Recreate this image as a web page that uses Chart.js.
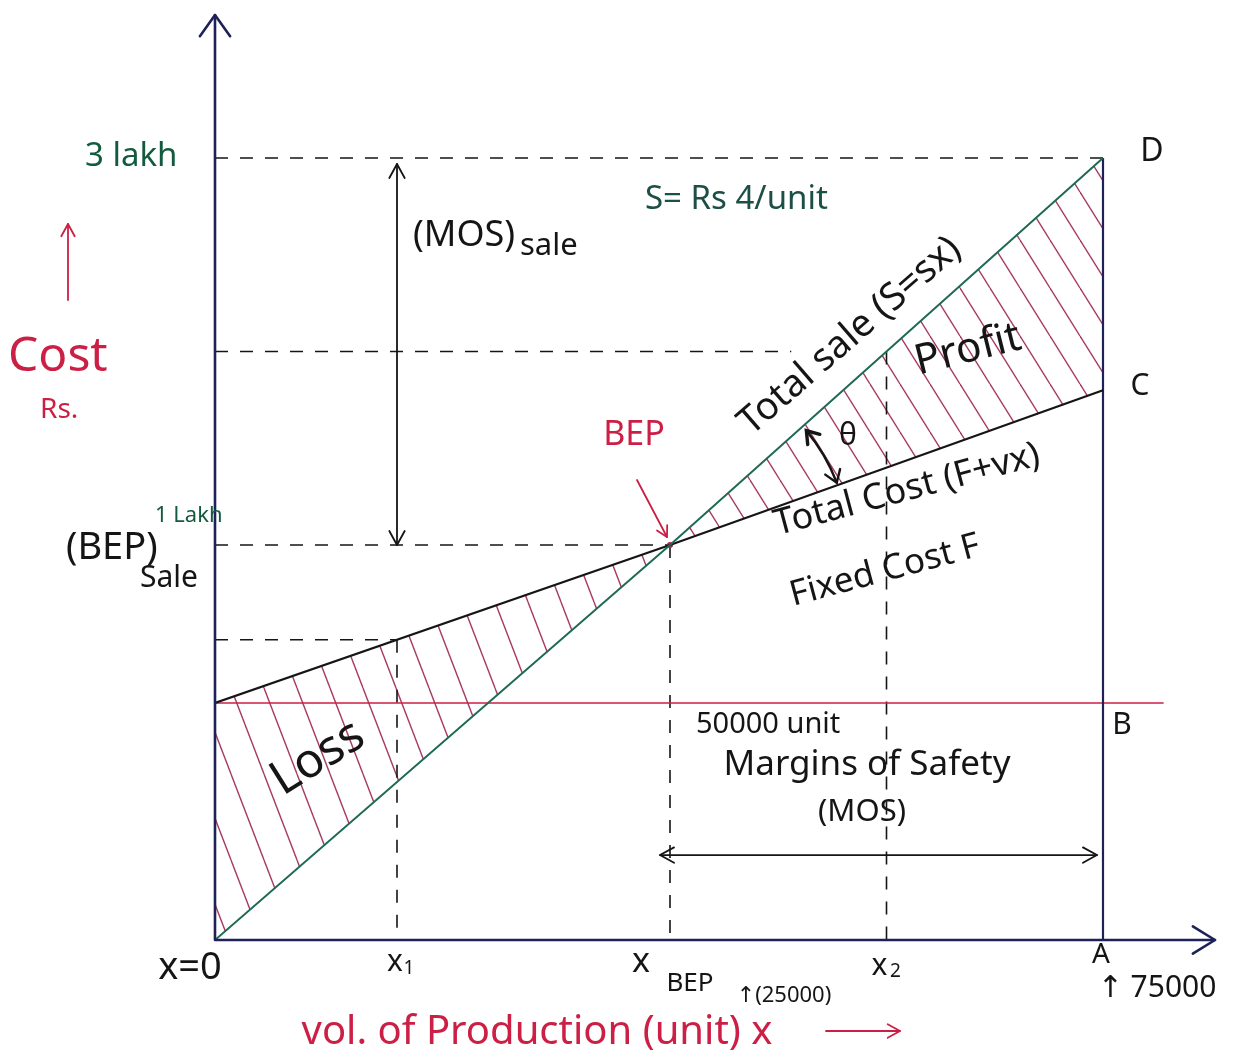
<!DOCTYPE html>
<html>
<head>
<meta charset="utf-8">
<title>Break-even chart</title>
<script src="https://cdn.jsdelivr.net/npm/chart.js@4.4.1/dist/chart.umd.min.js"></script>
<style>
  html, body { margin: 0; background: #fff; }
  #wrap { width: 1235px; height: 1061px; }
</style>
</head>
<body>
<div id="wrap"><canvas id="bep"></canvas></div>
<script>
// Break-even chart: total sale S = sx, total cost F + vx, fixed cost F
const units     = [0, 25000, 75000];        // x = 0, x_BEP, A
const totalSale = [0, 100000, 300000];      // Rs
const totalCost = [60000, 100000, 180000];  // Rs
const fixedCost = 60000;
const fixedCostEnd = 82000;
const x1 = 10000, x2 = 50000;
const costAtX1 = 76000;
const saleAtX2 = 200000;
const saleDashEnd = 39000;
const mosLevel = 21500;

// The sketch is not drawn to scale: each axis is piecewise linear between these knots
const KNOTS = {
  x: [[0, 0], [25000, 0.455], [75000, 0.888]],
  y: [[0, 0], [100000, 0.427], [300000, 0.8454]]
};
function seg(k, v, a, b) {
  let i = 1;
  while (i < k.length - 1 && v > k[i][a]) i++;
  const p = k[i - 1], q = k[i];
  return p[b] + (v - p[a]) * (q[b] - p[b]) / (q[a] - p[a]);
}
class SketchScale extends Chart.LinearScale {
  getPixelForValue(v) {
    const f = seg(KNOTS[this.axis], v, 0, 1);
    return this.isHorizontal() ? this.left + f * this.width : this.bottom - f * this.height;
  }
  getValueForPixel(p) {
    const f = this.isHorizontal() ? (p - this.left) / this.width : (this.bottom - p) / this.height;
    return seg(KNOTS[this.axis], f, 1, 0);
  }
}
SketchScale.id = 'sketch';
SketchScale.defaults = Chart.LinearScale.defaults;
Chart.register(SketchScale);

const pts = (xs, ys) => xs.map((x, i) => ({ x, y: ys[i] }));

function hatch(s, h, color) {
  const c = document.createElement('canvas');
  c.width = s; c.height = h;
  const g = c.getContext('2d');
  g.strokeStyle = color; g.lineWidth = 1.4;
  for (const dx of [-s, 0, s]) { g.beginPath(); g.moveTo(dx, 0); g.lineTo(dx + s, h); g.stroke(); }
  return g.createPattern(c, 'repeat');
}

const NAVY = '#1d2157', TEAL = '#1f6a56', RED = '#cc1f45', GREEN = '#135a3f', INK = '#151515';
const dash = (data) => ({ data, borderColor: INK, borderWidth: 1.6, borderDash: [13, 12], pointRadius: 0, fill: false });

function txt(ctx, s, x, y, size, color, rot = 0, align = 'left') {
  ctx.save();
  ctx.translate(x, y);
  ctx.rotate(rot * Math.PI / 180);
  ctx.font = `${size}px "Noto Sans", "DejaVu Sans", sans-serif`;
  ctx.fillStyle = color;
  ctx.textAlign = align;
  ctx.textBaseline = 'middle';
  ctx.fillText(s, 0, 0);
  ctx.restore();
}
function head(ctx, x, y, ang, len = 14, spread = 0.5) {
  ctx.beginPath();
  ctx.moveTo(x - len * Math.cos(ang - spread), y - len * Math.sin(ang - spread));
  ctx.lineTo(x, y);
  ctx.lineTo(x - len * Math.cos(ang + spread), y - len * Math.sin(ang + spread));
  ctx.stroke();
}
function arrow(ctx, xa, ya, xb, yb, color, both = false, w = 1.8, len = 14) {
  ctx.save();
  ctx.strokeStyle = color; ctx.lineWidth = w; ctx.lineCap = 'round'; ctx.lineJoin = 'round';
  ctx.beginPath(); ctx.moveTo(xa, ya); ctx.lineTo(xb, yb); ctx.stroke();
  const a = Math.atan2(yb - ya, xb - xa);
  head(ctx, xb, yb, a, len);
  if (both) head(ctx, xa, ya, a + Math.PI, len);
  ctx.restore();
}

const sketch = {
  id: 'sketch',
  afterDatasetsDraw(chart) {
    const { ctx } = chart;
    const X = v => chart.scales.x.getPixelForValue(v);
    const Y = v => chart.scales.y.getPixelForValue(v);
    const ox = X(0), oy = Y(0);
    const { right, top } = chart.chartArea;

    // axes with open arrow heads
    ctx.save();
    ctx.strokeStyle = NAVY; ctx.lineWidth = 2.6; ctx.lineCap = 'round'; ctx.lineJoin = 'round';
    ctx.beginPath(); ctx.moveTo(ox, oy); ctx.lineTo(ox, top); ctx.moveTo(ox, oy); ctx.lineTo(right, oy); ctx.stroke();
    head(ctx, ox, top, -Math.PI / 2, 26, 0.62);
    head(ctx, right, oy, 0, 26, 0.55);
    ctx.restore();

    // (MOS) sale arrow and MOS arrow
    arrow(ctx, X(x1), Y(300000) + 6, X(x1), Y(100000), INK, true, 1.8, 16);
    arrow(ctx, X(25000) - 10, Y(mosLevel), X(75000) - 6, Y(mosLevel), INK, true, 1.8, 16);

    // angle theta between sale and cost lines
    const bx = X(25000), by = Y(100000);
    const r = 178, a1 = -40 * Math.PI / 180, a2 = -20.5 * Math.PI / 180;
    ctx.save();
    ctx.strokeStyle = INK; ctx.lineWidth = 2.4; ctx.lineCap = 'round';
    ctx.beginPath(); ctx.arc(bx, by, r, a1, a2); ctx.stroke();
    ctx.lineWidth = 3.4;
    head(ctx, bx + r * Math.cos(a1), by + r * Math.sin(a1), a1 - Math.PI / 2, 14, 0.6);
    ctx.lineWidth = 2.4;
    head(ctx, bx + r * Math.cos(a2), by + r * Math.sin(a2), a2 + Math.PI / 2, 14, 0.6);
    ctx.restore();

    // red pointers
    arrow(ctx, 637, 480, bx - 3, by - 8, RED, false, 1.8, 12);
    arrow(ctx, 68, 300, 68, 224, RED, false, 1.8, 14);
    arrow(ctx, 826, 1031, 900, 1031, RED, false, 1.8, 14);

    // labels
    txt(ctx, '3 lakh', 85, 157, 33, GREEN);
    txt(ctx, '(MOS)', 413, 236, 36, INK);
    txt(ctx, 'sale', 520, 246, 31, INK);
    txt(ctx, 'S= Rs 4/unit', 645, 200, 33, '#1c4f46');
    txt(ctx, 'Total sale (S=sx)', 850, 336, 38, INK, -41, 'center');
    txt(ctx, 'Profit', 968, 350, 42, INK, -14, 'center');
    txt(ctx, 'θ', 848, 436, 30, INK, 0, 'center');
    txt(ctx, 'BEP', 634, 435, 34, RED, 0, 'center');
    txt(ctx, 'Total Cost (F+vx)', 907, 490, 36, INK, -15, 'center');
    txt(ctx, 'Fixed Cost F', 885, 571, 35, INK, -15, 'center');
    txt(ctx, '(BEP)', 66, 548, 38, INK);
    txt(ctx, '1 Lakh', 155, 516, 22, GREEN);
    txt(ctx, 'Sale', 140, 578, 30, INK);
    txt(ctx, 'Cost', 8, 357, 48, RED);
    txt(ctx, 'Rs.', 40, 410, 28, RED);
    txt(ctx, 'Loss', 318, 758, 48, INK, -32, 'center');
    txt(ctx, '50000 unit', 696, 725, 29, INK);
    txt(ctx, 'Margins of Safety', 867, 765, 35, INK, 0, 'center');
    txt(ctx, '(MOS)', 862, 812, 31, INK, 0, 'center');
    txt(ctx, 'C', 1140, 386, 30, INK, 0, 'center');
    txt(ctx, 'D', 1152, 152, 32, INK, 0, 'center');
    txt(ctx, 'B', 1122, 725, 30, INK, 0, 'center');

    // x-axis marks
    txt(ctx, 'x=0', 190, 968, 38, INK, 0, 'center');
    txt(ctx, 'x', X(x1) - 2, 962, 30, INK, 0, 'center');
    txt(ctx, '1', X(x1) + 12, 969, 19, INK, 0, 'center');
    txt(ctx, 'x', 641, 962, 34, INK, 0, 'center');
    txt(ctx, 'BEP', 690, 984, 26, INK, 0, 'center');
    txt(ctx, '↑(25000)', 784, 996, 22, INK, 0, 'center');
    txt(ctx, 'x', X(x2) - 7, 966, 30, INK, 0, 'center');
    txt(ctx, '2', X(x2) + 9, 972, 19, INK, 0, 'center');
    txt(ctx, 'A', 1101, 955, 28, INK, 0, 'center');
    txt(ctx, '↑ 75000', 1157, 988, 30, INK, 0, 'center');
    txt(ctx, 'vol. of Production (unit) x', 537, 1033, 40, RED, 0, 'center');
  }
};

new Chart(document.getElementById('bep'), {
  type: 'line',
  data: {
    datasets: [
      { label: 'Total sale', data: pts(units, totalSale), borderColor: TEAL, borderWidth: 2, pointRadius: 0, fill: false },
      { label: 'Total cost', data: pts(units, totalCost), borderColor: INK, borderWidth: 2.2, pointRadius: 0, fill: false },
      { label: 'BEP', data: [{ x: units[1], y: totalSale[1] }], pointRadius: 3, pointBackgroundColor: '#b3264a', pointBorderWidth: 0, showLine: false },
      { label: 'A-D', data: [{ x: units[2], y: 0 }, { x: units[2], y: totalSale[2] }], borderColor: NAVY, borderWidth: 2.2, pointRadius: 0, fill: false },
      { label: 'Fixed cost', data: [{ x: 0, y: fixedCost }, { x: fixedCostEnd, y: fixedCost }], borderColor: RED, borderWidth: 1.6, pointRadius: 0, fill: false },
      dash([{ x: 0, y: totalSale[2] }, { x: units[2], y: totalSale[2] }]),
      dash([{ x: 0, y: saleAtX2 }, { x: saleDashEnd, y: saleAtX2 }]),
      dash([{ x: 0, y: totalSale[1] }, { x: units[1], y: totalSale[1] }]),
      dash([{ x: 0, y: costAtX1 }, { x: x1, y: costAtX1 }]),
      dash([{ x: x1, y: costAtX1 }, { x: x1, y: 0 }]),
      dash([{ x: units[1], y: totalSale[1] }, { x: units[1], y: 0 }]),
      dash([{ x: x2, y: saleAtX2 }, { x: x2, y: 0 }]),
      // hatched loss region (x = 0 .. x_BEP)
      { label: 'Loss', data: pts(units.slice(0, 2), totalCost.slice(0, 2)), borderWidth: 0, pointRadius: 0,
        fill: { target: 13 }, backgroundColor: hatch(33, 86, 'rgba(150,22,70,0.85)') },
      { data: pts(units.slice(0, 2), totalSale.slice(0, 2)), borderWidth: 0, pointRadius: 0, fill: false },
      // hatched profit region (x_BEP .. A)
      { label: 'Profit', data: pts(units.slice(1), totalSale.slice(1)), borderWidth: 0, pointRadius: 0,
        fill: { target: 15 }, backgroundColor: hatch(30, 48, 'rgba(150,22,70,0.85)') },
      { data: pts(units.slice(1), totalCost.slice(1)), borderWidth: 0, pointRadius: 0, fill: false }
    ]
  },
  options: {
    responsive: true,
    maintainAspectRatio: false,
    animation: false,
    layout: { padding: { left: 215, right: 20, top: 15, bottom: 121 } },
    plugins: { legend: { display: false }, tooltip: { enabled: false } },
    scales: {
      x: { type: 'sketch', min: 0, max: 88000, display: false },
      y: { type: 'sketch', min: 0, max: 374000, display: false }
    }
  },
  plugins: [sketch]
});
</script>
</body>
</html>
